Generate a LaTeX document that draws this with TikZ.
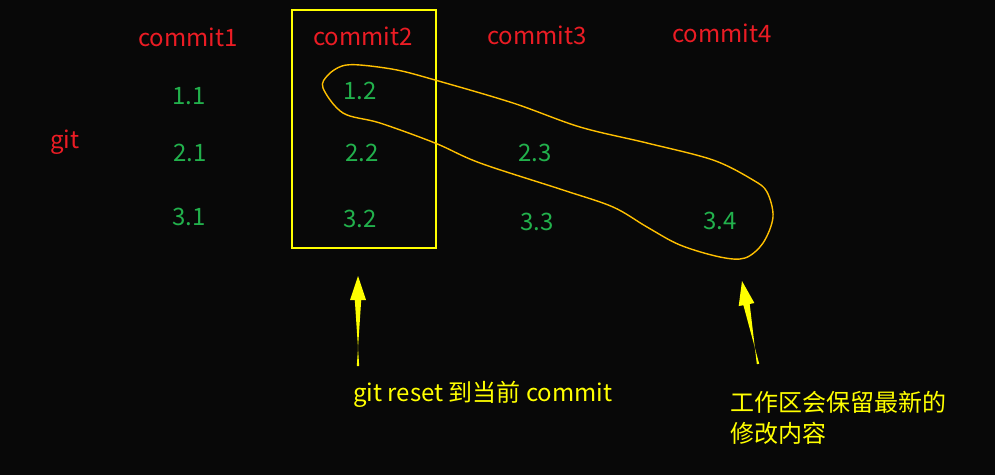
\documentclass[tikz,border=0pt]{standalone}
\usepackage{fontspec}
\setmainfont{Noto Sans CJK SC}
\usetikzlibrary{calc}
\definecolor{bg}{RGB}{8,8,8}
\definecolor{cred}{RGB}{235,28,36}
\definecolor{cgreen}{RGB}{34,177,76}
\definecolor{cyel}{RGB}{255,255,0}
\definecolor{corange}{RGB}{255,192,0}
\tikzset{
  lbl/.style={font=\fontsize{24}{31}\selectfont, inner sep=0pt},
  head/.style={lbl, text=cred},
  val/.style={lbl, text=cgreen},
  note/.style={lbl, text=cyel, align=left, anchor=west},
  selbox/.style={draw=cyel, line width=1.5pt},
  loop/.style={draw=corange, line width=1.4pt},
  taper/.style={fill=cyel}
}
\newcommand\taperarrow[2]{%
  \coordinate (hb) at ($(#1)!24pt!(#2)$);
  \fill[taper] ($(#2)!1.2pt!90:(#1)$) -- ($(hb)!3.2pt!-90:(#1)$) -- ($(hb)!8pt!-90:(#1)$)
     -- (#1) -- ($(hb)!8pt!90:(#1)$) -- ($(hb)!3.2pt!90:(#1)$) -- ($(#2)!1.2pt!-90:(#1)$) -- cycle;%
}
\begin{document}
\begin{tikzpicture}[x=1pt,y=-1pt]
\fill[bg] (0,0) rectangle (995,475);
\useasboundingbox (0,0) rectangle (995,475);
% headers
\node[head] (c1) at (188,37) {commit1};
\node[head] (c2) at (363,36) {commit2};
\node[head] (c3) at (537,35) {commit3};
\node[head] (c4) at (722,33) {commit4};
\node[head] (git) at (65,142) {git};
% values
\node[val] (v11) at (189,96) {1.1};
\node[val] (v21) at (190,153) {2.1};
\node[val] (v31) at (189,217) {3.1};
\node[val] (v12) at (360,91) {1.2};
\node[val] (v22) at (362,153) {2.2};
\node[val] (v32) at (360,219) {3.2};
\node[val] (v23) at (535,153) {2.3};
\node[val] (v33) at (537,222) {3.3};
\node[val] (v34) at (720,221) {3.4};
% selection box
\node[selbox, minimum width=144pt, minimum height=238pt] (box) at (364,129) {};
% hand-drawn loop
\draw[loop] plot[smooth cycle, tension=0.55] coordinates {
 (360,65) (397,70) (435,80) (513,103) (580,127) (647,143) (713,160)
 (753,180) (767,192) (773,217) (763,243) (745,258) (720,257) (680,245)
 (647,227) (613,207) (563,190) (480,163) (435,143) (380,123) (343,113)
 (323,88) (328,75) (342,66)};
% notes
\node[note] (n1) at (353,394) {git reset 到当前 commit};
\node[note] (n2) at (730,418) {工作区会保留最新的\\修改内容};
% arrows
\coordinate (t1) at (358,276);
\coordinate (b1) at (358,366);
\coordinate (t2) at (742,281);
\coordinate (b2) at (758,364);
\taperarrow{t1}{b1}
\taperarrow{t2}{b2}
\end{tikzpicture}
\end{document}
